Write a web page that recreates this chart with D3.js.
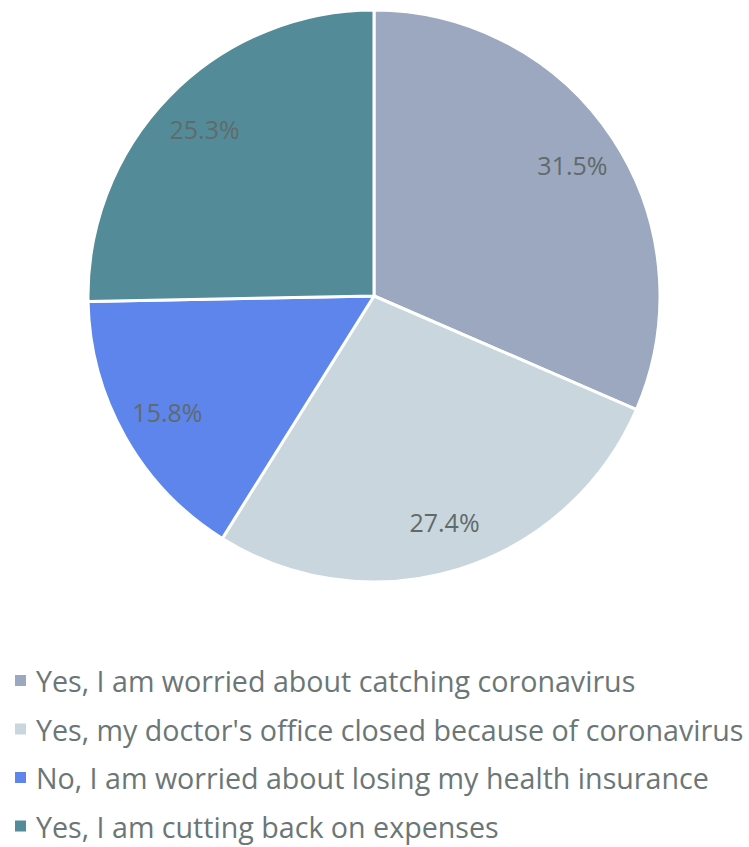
<!DOCTYPE html>
<html>
<head>
<meta charset="utf-8">
<script src="https://cdn.jsdelivr.net/npm/d3@7"></script>
<style>
  html, body { margin: 0; padding: 0; background: #fff; }
  svg { display: block; }
</style>
</head>
<body>
<svg id="chart" width="749" height="847"></svg>
<script>
const categories = [
  "Yes, I am worried about catching coronavirus",
  "Yes, my doctor's office closed because of coronavirus",
  "No, I am worried about losing my health insurance",
  "Yes, I am cutting back on expenses"
];
const values = [31.5, 27.4, 15.8, 25.3];
const colors = ["#9ca8bf", "#c9d6de", "#5d85ec", "#538b98"];

const data = categories.map((c, i) => ({ name: c, value: values[i], color: colors[i] }));

const svg = d3.select("#chart");
const cx = 374, cy = 296, r = 286;
const font = "'Open Sans', 'Noto Sans', sans-serif";

const pie = d3.pie().value(d => d.value).sort(null);
const arc = d3.arc().innerRadius(0).outerRadius(r);
const labelArc = d3.arc().innerRadius(r * 0.83).outerRadius(r * 0.83);

const g = svg.append("g").attr("transform", `translate(${cx},${cy})`);
const arcs = pie(data);

g.selectAll("path")
  .data(arcs)
  .join("path")
  .attr("d", arc)
  .attr("fill", d => d.data.color)
  .attr("stroke", "#fff")
  .attr("stroke-width", 3)
  .attr("stroke-linejoin", "round");

g.selectAll("text.val")
  .data(arcs)
  .join("text")
  .attr("class", "val")
  .attr("transform", d => `translate(${labelArc.centroid(d)})`)
  .attr("text-anchor", "middle")
  .attr("dy", "0.36em")
  .attr("font-family", font)
  .attr("font-size", 25)
  .attr("fill", "#5f6b6b")
  .text(d => d.data.value.toFixed(1) + "%");

// Legend
const legend = svg.append("g").attr("transform", "translate(15,682)");
const item = legend.selectAll("g")
  .data(data)
  .join("g")
  .attr("transform", (d, i) => `translate(0,${i * 48.5})`);

item.append("rect")
  .attr("x", 0).attr("y", -7)
  .attr("width", 11).attr("height", 11)
  .attr("fill", d => d.color);

const legendText = item.append("text")
  .attr("x", 21)
  .attr("y", 0)
  .attr("dy", "0.35em")
  .attr("font-family", font)
  .attr("font-size", 26)
  .attr("fill", "#6b7676")
  .text(d => d.name);

// size the legend font so the longest entry spans the available width
const longest = d3.max(legendText.nodes(), n => n.getComputedTextLength());
const legendSize = 26 * 708 / longest;
legendText.attr("font-size", legendSize);
</script>
</body>
</html>
